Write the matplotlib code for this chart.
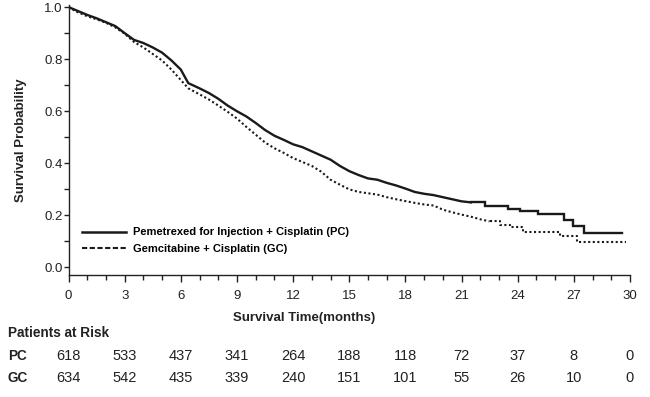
import matplotlib
matplotlib.use("Agg")
import matplotlib.pyplot as plt
from matplotlib.lines import Line2D
from matplotlib.ticker import MultipleLocator
import matplotlib.transforms as mtransforms

plt.rcParams['font.family'] = ['Liberation Sans', 'DejaVu Sans']

# ---- data ----
pc_time = [0, 0.5, 1.0, 1.5, 2.0, 2.5, 3.0, 3.5, 4.0, 4.5, 5.0, 5.5, 6.0, 6.4,
           7.0, 7.5, 8.0, 8.5, 9.0, 9.5, 10.0, 10.5, 11.0, 11.5, 12.0, 12.5,
           13.0, 13.5, 14.0, 14.5, 15.0, 15.5, 16.0, 16.5, 17.0, 17.5, 18.0,
           18.5, 19.0, 19.5, 20.0, 20.5, 21.0, 21.5, 22.25, 23.5, 24.1, 25.1,
           26.5, 26.97, 27.54, 29.55]
pc_surv = [1.0, 0.985, 0.97, 0.957, 0.942, 0.927, 0.900, 0.874, 0.862, 0.845,
           0.825, 0.795, 0.76, 0.708, 0.688, 0.67, 0.648, 0.622, 0.60, 0.58,
           0.555, 0.528, 0.506, 0.49, 0.473, 0.462, 0.446, 0.43, 0.414, 0.39,
           0.37, 0.355, 0.342, 0.337, 0.325, 0.315, 0.303, 0.29, 0.283, 0.278,
           0.27, 0.262, 0.254, 0.25, 0.235, 0.225, 0.215, 0.204, 0.184, 0.161,
           0.133, 0.133]
pc_steps_from = 21.5   # beyond this time the individual steps are visible

gc_time = [0, 0.5, 1.0, 1.5, 2.0, 2.5, 3.0, 3.5, 4.0, 4.5, 5.0, 5.5, 6.0, 6.4,
           7.0, 7.5, 8.0, 8.5, 9.0, 9.5, 10.0, 10.5, 11.0, 11.5, 12.0, 12.5,
           13.0, 13.5, 14.0, 14.5, 15.0, 15.5, 16.0, 16.5, 17.0, 17.5, 18.0,
           18.5, 19.0, 19.5, 20.0, 20.5, 21.0, 21.5, 22.0, 22.5, 23.05, 23.6,
           24.3, 26.26, 27.15, 29.8]
gc_surv = [1.0, 0.98, 0.965, 0.953, 0.94, 0.922, 0.898, 0.866, 0.845, 0.82,
           0.795, 0.76, 0.72, 0.688, 0.665, 0.645, 0.622, 0.598, 0.572, 0.54,
           0.51, 0.48, 0.458, 0.44, 0.42, 0.405, 0.39, 0.368, 0.337, 0.318,
           0.30, 0.29, 0.285, 0.28, 0.27, 0.262, 0.255, 0.248, 0.242, 0.238,
           0.222, 0.212, 0.203, 0.195, 0.185, 0.177, 0.165, 0.155, 0.135,
           0.12, 0.098, 0.098]
gc_steps_from = 22.5

pc_label = "Pemetrexed for Injection + Cisplatin (PC)"
gc_label = "Gemcitabine + Cisplatin (GC)"

risk_times = [0, 3, 6, 9, 12, 15, 18, 21, 24, 27, 30]
pc_risk = [618, 533, 437, 341, 264, 188, 118, 72, 37, 8, 0]
gc_risk = [634, 542, 435, 339, 240, 151, 101, 55, 26, 10, 0]

# ---- figure ----
fig = plt.figure(figsize=(6.5, 3.97), dpi=100)
ax = fig.add_axes([68.5 / 650, (397 - 274.5) / 397, (630 - 68.5) / 650, (274.5 - 5) / 397])

ink = '#1a1a1a'


def draw_km(times, surv, steps_from, **kw):
    k = times.index(steps_from)
    ax.plot(times[:k + 1], surv[:k + 1], **kw)
    ax.plot(times[k:], surv[k:], drawstyle='steps-post', **kw)


draw_km(pc_time, pc_surv, pc_steps_from, color=ink, lw=1.7,
        solid_joinstyle='miter')
draw_km(gc_time, gc_surv, gc_steps_from, color=ink, lw=1.5,
        linestyle=(0, (1.0, 1.2)))

ax.set_xlim(0, 30)
ax.set_ylim(-0.027, 1.008)
ax.xaxis.set_major_locator(MultipleLocator(3))
ax.xaxis.set_minor_locator(MultipleLocator(1))
ax.set_yticks([0, 0.2, 0.4, 0.6, 0.8, 1.0])
ax.set_yticklabels(["0.0", "0.2", "0.4", "0.6", "0.8", "1.0"])
ax.yaxis.set_minor_locator(MultipleLocator(0.1))

for s in ['top', 'right']:
    ax.spines[s].set_visible(False)
for s in ['left', 'bottom']:
    ax.spines[s].set_linewidth(1.0)
    ax.spines[s].set_color('#222222')

ax.tick_params(axis='x', which='major', length=5, width=1.0, direction='out',
               labelsize=9.5, pad=6, colors='#222222')
ax.tick_params(axis='x', which='minor', length=3.5, width=1.0, direction='out',
               colors='#222222')
ax.tick_params(axis='y', which='both', length=3.6, width=1.0, direction='out',
               labelsize=9.5, pad=0.5, colors='#222222')

handles = [Line2D([], [], color=ink, lw=1.8),
           Line2D([], [], color=ink, lw=1.5, linestyle=(0, (2.5, 1.2)))]
ax.legend(handles, [pc_label, gc_label], loc='center left',
          bbox_to_anchor=(0.0235, 0.126), frameon=False, borderpad=0,
          borderaxespad=0, handlelength=4.0, handletextpad=0.6,
          labelspacing=0.55, prop={'weight': 'bold', 'size': 8})

fig.text(21 / 650, (397 - 140) / 397, "Survival Probability", rotation=90,
         ha='center', va='center', fontsize=9.5, fontweight='bold', color='#222222')
fig.text(304 / 650, (397 - 318) / 397, "Survival Time(months)", ha='center',
         va='center', fontsize=9.5, fontweight='bold', color='#222222')
fig.text(8 / 650, (397 - 333) / 397, "Patients at Risk", ha='left', va='center',
         fontsize=9.8, fontweight='bold', color='#222222')

trans = mtransforms.blended_transform_factory(ax.transData, fig.transFigure)
y_pc = (397 - 356) / 397
y_gc = (397 - 378) / 397
fig.text(8 / 650, y_pc, "PC", ha='left', va='center', fontsize=9.8,
         fontweight='bold', color='#222222')
fig.text(8 / 650, y_gc, "GC", ha='left', va='center', fontsize=9.8,
         fontweight='bold', color='#222222')
for t, a, b in zip(risk_times, pc_risk, gc_risk):
    ax.text(t, y_pc, str(a), transform=trans, ha='center', va='center',
            fontsize=10.5, color='#222222', clip_on=False)
    ax.text(t, y_gc, str(b), transform=trans, ha='center', va='center',
            fontsize=10.5, color='#222222', clip_on=False)

fig.savefig("out.png", dpi=100)
